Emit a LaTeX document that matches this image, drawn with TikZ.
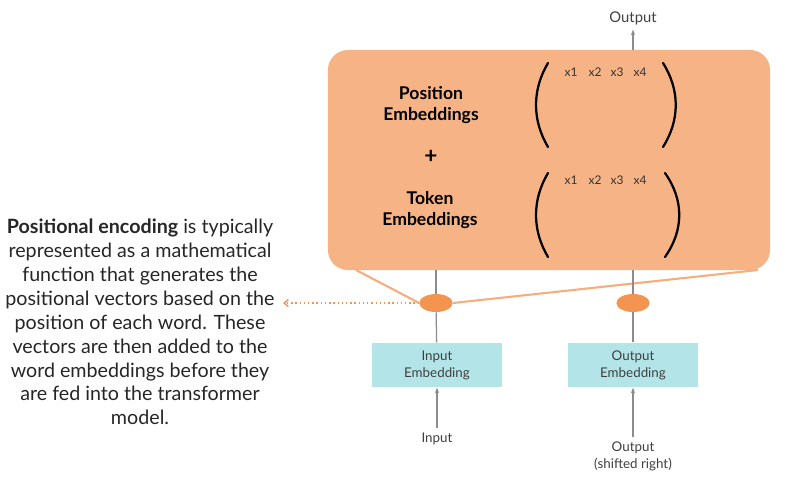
\documentclass[tikz,border=0pt]{standalone}
\usepackage{fontspec}
\setmainfont{Lato}
\usetikzlibrary{shapes.geometric,arrows.meta}
\definecolor{peach}{HTML}{F6B386}
\definecolor{dotorange}{HTML}{F39450}
\definecolor{embcyan}{HTML}{B3E5E8}
\definecolor{linegray}{HTML}{8C8C8C}
\begin{document}
\begin{tikzpicture}[x=0.025cm, y=-0.025cm,
        bigbox/.style={rectangle, rounded corners=0.5cm, fill=peach, minimum width=11.05cm, minimum height=5.5cm},
        label/.style={font=\bfseries\fontsize{12.5}{15}\selectfont, align=center, text=black},
        vec/.style={font=\fontsize{8.5}{10}\selectfont, text=black!80},
        dot/.style={ellipse, fill=dotorange, minimum width=0.83cm, minimum height=0.45cm, inner sep=0pt},
        embed/.style={rectangle, fill=embcyan, minimum width=3.25cm, minimum height=1.12cm, align=center, font=\fontsize{9.5}{12}\selectfont, text=black!75},
        small/.style={font=\fontsize{9.5}{12}\selectfont, align=center, text=black!75},
        paren/.style={line width=1.6pt, line cap=round},
        feed/.style={-{Stealth[length=4pt,width=3pt]}, linegray, line width=0.9pt},
        plain/.style={linegray, line width=0.9pt},
        fan/.style={peach!85!dotorange, line width=1.5pt}]

        \useasboundingbox (0,0) rectangle (794,489);

        % main block
        \node[bigbox] (block) at (549, 160) {};
        \node[label] (pos) at (431, 105) {Position\\Embeddings};
        \node[label, font=\bfseries\fontsize{16}{16}\selectfont] (plus) at (431, 157) {+};
        \node[label] (tok) at (430, 210) {Token\\Embeddings};

        % vectors
        \draw[paren] (548, 63) .. controls (532, 90) and (532, 120) .. (548, 147);
        \draw[paren] (663, 63) .. controls (680, 90) and (680, 120) .. (663, 147);
        \draw[paren] (548, 173) .. controls (532, 200) and (532, 230) .. (548, 257);
        \draw[paren] (665, 173) .. controls (684, 200) and (684, 230) .. (665, 257);
        \foreach \i/\x in {1/571, 2/595, 3/617, 4/640} {
            \node[vec] (p\i) at (\x, 72) {x\i};
            \node[vec] (t\i) at (\x, 180) {x\i};
        }

        % output on top
        \node[small, font=\fontsize{10.5}{12}\selectfont] (out) at (633, 18) {Output};
        \coordinate (btop) at (633, 50);
        \draw[feed] (btop) -- (out);

        % sum points
        \node[dot] (sumin) at (436, 303) {};
        \node[dot] (sumout) at (633, 303) {};
        \coordinate (bl) at (356, 270);
        \coordinate (br) at (758, 270);
        \coordinate (bin) at (436, 270);
        \coordinate (bout) at (633, 270);
        \draw[fan] (bl) -- (sumin.west);
        \draw[fan] (sumin.east) -- (br);

        % embeddings
        \node[embed] (inemb) at (437, 365) {Input\\Embedding};
        \node[embed] (outemb) at (633, 365) {Output\\Embedding};
        \draw[plain] (bin) -- (sumin);
        \draw[plain] (sumin) -- (inemb);
        \draw[plain] (bout) -- (sumout);
        \draw[plain] (sumout) -- (outemb);

        \node[small] (inp) at (437, 439) {Input};
        \node[small] (outp) at (633, 456) {Output\\(shifted right)};
        \draw[feed] (inp) -- (inemb);
        \draw[feed] (outp) -- (outemb);

        % explanation
        \node[font=\fontsize{14}{17}\selectfont, align=center, text=black!85] (note) at (140, 322)
            {\textbf{Positional encoding} is typically\\represented as a mathematical\\function that generates the\\positional vectors based on the\\position of each word. These\\vectors are then added to the\\word embeddings before they\\are fed into the transformer\\model.};
        \coordinate (noteend) at (283, 303);
        \draw[-{Straight Barb[length=3pt,width=5pt]}, dotorange, dotted, line width=1pt] (sumin.west) -- (noteend);
    \end{tikzpicture}
\end{document}
